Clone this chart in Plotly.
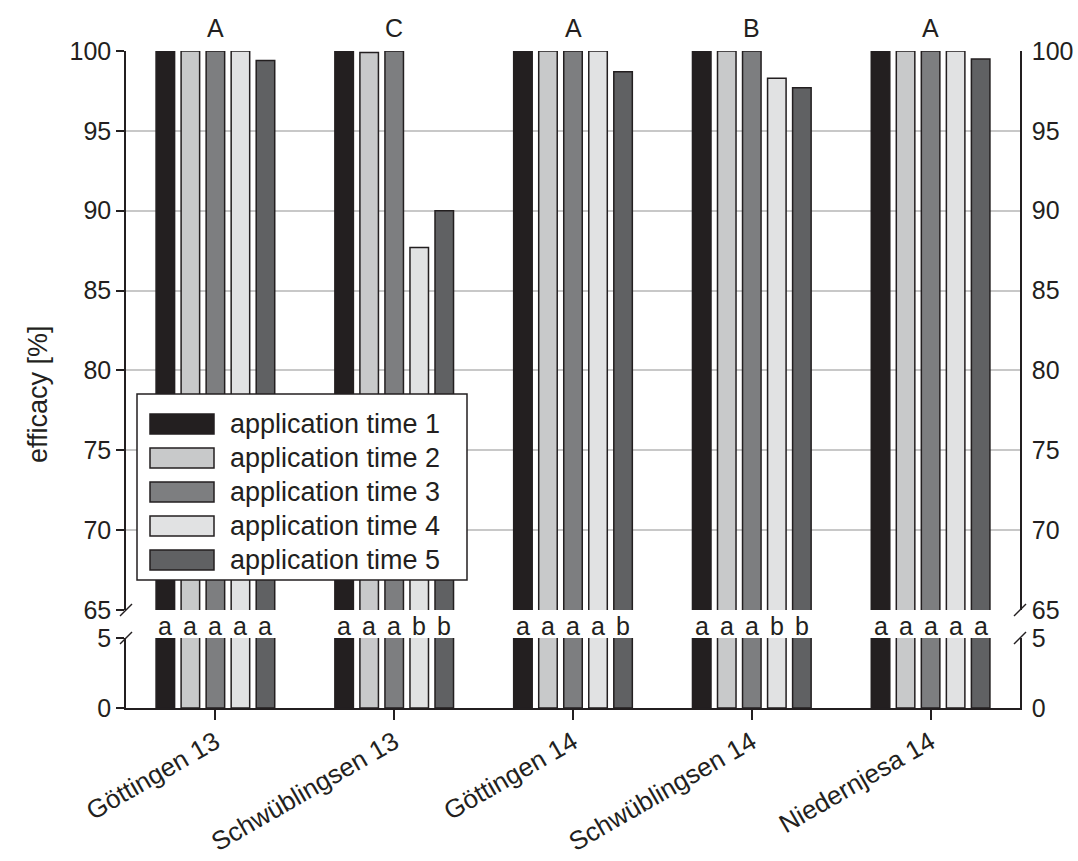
import plotly.graph_objects as go

# ---------------- data ----------------
sites = ["Göttingen 13", "Schwüblingsen 13", "Göttingen 14", "Schwüblingsen 14", "Niedernjesa 14"]
series_names = ["application time 1", "application time 2", "application time 3",
                "application time 4", "application time 5"]
time1 = [100.0, 100.0, 100.0, 100.0, 100.0]
time2 = [100.0, 99.9, 100.0, 100.0, 100.0]
time3 = [100.0, 100.0, 100.0, 100.0, 100.0]
time4 = [100.0, 87.7, 100.0, 98.3, 100.0]
time5 = [99.4, 90.0, 98.7, 97.7, 99.5]
site_letters = ["A", "C", "A", "B", "A"]
bar_letters = [
    ["a", "a", "a", "a", "a"],
    ["a", "a", "a", "b", "b"],
    ["a", "a", "a", "a", "b"],
    ["a", "a", "a", "b", "b"],
    ["a", "a", "a", "a", "a"],
]
upper_ticks = [65, 70, 75, 80, 85, 90, 95, 100]
lower_ticks = [0, 5]

# ---------------- style ----------------
series = [time1, time2, time3, time4, time5]
colors = ["#231f20", "#c8c9ca", "#7d7e80", "#e1e2e3", "#606163"]
ink = "#231f20"
grid = "#c8c8c8"
FONT = "Liberation Sans, Arial, sans-serif"

W, H = 1078, 861
PL, PR, PT, PB = 126, 1020, 51, 708          # plot area in pixels
UP_BOTTOM, LOW_TOP = 610, 638                 # break strip
pw, ph = PR - PL, PB - PT


def px(x):
    return (x - PL) / pw


def py(y):
    return (PB - y) / ph


BARGAP = 0.30
NS = len(series)
slot = (1 - BARGAP) / NS

fig = go.Figure()
for i, (name, vals) in enumerate(zip(series_names, series)):
    for xa, ya in (("x", "y"), ("x2", "y2")):
        fig.add_trace(go.Bar(
            x=sites, y=vals, name=name, xaxis=xa, yaxis=ya,
            marker=dict(color=colors[i], line=dict(color=ink, width=1.5)),
            showlegend=False, offsetgroup=str(i),
        ))

# empty helper traces so that the right-hand axes are drawn
for xa, ya in (("x2", "y3"), ("x", "y4")):
    fig.add_trace(go.Scatter(x=sites, y=[None] * len(sites), xaxis=xa, yaxis=ya,
                             mode="markers", showlegend=False, hoverinfo="skip"))

axis_common = dict(showline=True, linecolor=ink, linewidth=1.5, zeroline=False, automargin=False,
                   tickfont=dict(size=25, color=ink, family=FONT))

fig.update_layout(
    width=W, height=H,
    margin=dict(l=PL, r=W - PR, t=PT, b=H - PB, pad=0),
    paper_bgcolor="white", plot_bgcolor="white",
    font=dict(family=FONT, color=ink),
    barmode="group", bargap=BARGAP, bargroupgap=0.26,
    xaxis=dict(domain=[0, 1], anchor="y", type="category", range=[-0.5, 4.5],
               ticks="outside", ticklen=10, tickwidth=1.5, tickcolor=ink,
               tickangle=-30, showgrid=False, ticklabelstandoff=-3,
               showline=True, linecolor=ink, linewidth=1.5, zeroline=False, automargin=False,
               tickfont=dict(size=26, color=ink, family=FONT)),
    xaxis2=dict(domain=[0, 1], anchor="y2", matches="x", type="category", automargin=False,
                showticklabels=False, ticks="", showline=False, showgrid=False, zeroline=False),
    yaxis=dict(domain=[0, py(LOW_TOP)], anchor="x", range=[0, 5], tickvals=lower_ticks,
               ticks="outside", ticklen=8, tickwidth=1.5, tickcolor=ink,
               showgrid=True, gridcolor=grid, gridwidth=1.5, **axis_common),
    yaxis2=dict(domain=[py(UP_BOTTOM), 1], anchor="x2", range=[65, 100], tickvals=upper_ticks,
                ticks="outside", ticklen=8, tickwidth=1.5, tickcolor=ink,
                showgrid=True, gridcolor=grid, gridwidth=1.5, **axis_common),
    yaxis3=dict(overlaying="y2", anchor="x2", side="right", range=[65, 100], tickvals=upper_ticks,
                ticks="", showgrid=False, ticklabelstandoff=5, **axis_common),
    yaxis4=dict(overlaying="y", anchor="x", side="right", range=[0, 5], tickvals=lower_ticks,
                ticks="", showgrid=False, ticklabelstandoff=5, **axis_common),
)

shapes = []
annotations = []

# break marks on both vertical axes
for xc in (PL, PR):
    for yc in (UP_BOTTOM, LOW_TOP):
        shapes.append(dict(type="line", xref="paper", yref="paper",
                           x0=px(xc - 6), y0=py(yc + 6), x1=px(xc + 6), y1=py(yc - 6),
                           line=dict(color=ink, width=1.5), layer="above"))

# letters in break strip & above groups
for ci, site in enumerate(sites):
    for si in range(NS):
        annotations.append(dict(xref="x", yref="paper", x=ci + (si - (NS - 1) / 2) * slot,
                                y=py((UP_BOTTOM + LOW_TOP) / 2 + 2), text=bar_letters[ci][si],
                                showarrow=False, font=dict(size=25, color=ink, family=FONT),
                                xanchor="center", yanchor="middle"))
    annotations.append(dict(xref="x", yref="paper", x=ci, y=py(28), text=site_letters[ci],
                            showarrow=False, font=dict(size=25, color=ink, family=FONT),
                            xanchor="center", yanchor="middle"))

# y-axis title
annotations.append(dict(xref="paper", yref="paper", x=px(38), y=py(394), text="efficacy [%]",
                        textangle=-90, showarrow=False,
                        font=dict(size=27, color=ink, family=FONT),
                        xanchor="center", yanchor="middle"))

# legend box (drawn manually to get wide swatches)
shapes.append(dict(type="rect", xref="paper", yref="paper",
                   x0=px(137), x1=px(467), y0=py(580), y1=py(394),
                   fillcolor="white", line=dict(color=ink, width=1.5), layer="above"))
for i, name in enumerate(series_names):
    top = 414 + 34 * i
    shapes.append(dict(type="rect", xref="paper", yref="paper",
                       x0=px(150), x1=px(214), y0=py(top + 20), y1=py(top),
                       fillcolor=colors[i], line=dict(color=ink, width=1.5), layer="above"))
    annotations.append(dict(xref="paper", yref="paper", x=px(228), y=py(top + 10), text=name,
                            showarrow=False, font=dict(size=27, color=ink, family=FONT),
                            xanchor="left", yanchor="middle"))

fig.update_layout(shapes=shapes, annotations=annotations)
fig.write_html("out.html")
